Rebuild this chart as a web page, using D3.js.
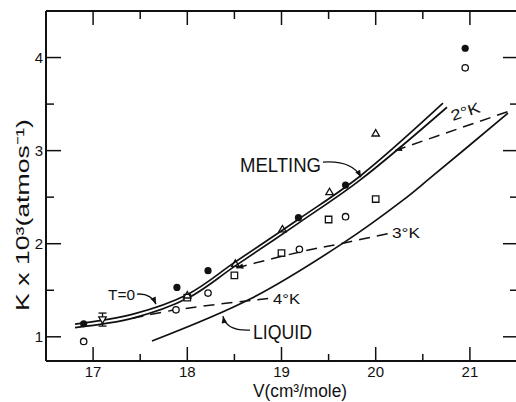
<!DOCTYPE html>
<html>
<head>
<meta charset="utf-8">
<script src="https://cdn.jsdelivr.net/npm/d3@7"></script>
<style>
  body { margin: 0; background: #fff; }
  svg { display: block; }
  text { font-family: "Liberation Sans", Arial, sans-serif; fill: #111; }
</style>
</head>
<body>
<div id="chart"></div>
<script>
/*---------- données ----------*/
var xTicks = [17, 18, 19, 20, 21];
var xMinor = [17.5, 18.5, 19.5, 20.5];
var yTicks = [1, 2, 3, 4];
var yMinor = [1.5, 2.5, 3.5];

// points expérimentaux
var filledV = [16.9, 17.89, 18.22, 19.18, 19.68, 20.95];
var filledK = [1.14, 1.53, 1.71, 2.28, 2.63, 4.10];
var openV = [16.9, 17.88, 18.22, 19.19, 19.68, 20.95];
var openK = [0.95, 1.29, 1.47, 1.94, 2.29, 3.89];
var triV = [18.0, 18.51, 19.01, 19.51, 20.0];
var triK = [1.44, 1.78, 2.15, 2.55, 3.18];
var sqV = [18.0, 18.5, 19.0, 19.5, 20.0];
var sqK = [1.42, 1.66, 1.90, 2.26, 2.48];
var errV = [17.1], errK = [1.19], errLo = [1.115], errHi = [1.255];

// courbes
var tZeroV = [16.808, 17.424, 18.007, 18.506, 19.196, 19.833, 20.714];
var tZeroK = [1.136, 1.244, 1.458, 1.802, 2.274, 2.725, 3.509];
var meltV = [16.808, 17.424, 18.007, 18.506, 19.196, 19.833, 20.757];
var meltK = [1.099, 1.201, 1.416, 1.759, 2.232, 2.683, 3.466];
var liquidV = [17.625, 18.666, 19.653, 20.29, 20.576, 21.404];
var liquidK = [0.954, 1.405, 2.006, 2.468, 2.704, 3.402];
var iso4V = [17.42, 17.88, 18.89];
var iso4K = [1.20, 1.29, 1.415];
var iso3V = [18.52, 19.186, 19.653, 20.152];
var iso3K = [1.74, 1.909, 2.006, 2.113];
var iso2V = [20.205, 21.404];
var iso2K = [3.00, 3.42];

/*---------- mise en place ----------*/
var W = 516, H = 402;
var svg = d3.select("#chart").append("svg")
    .attr("width", W)
    .attr("height", H);

var x = d3.scaleLinear().domain([16.5, 21.5]).range([46, 517]);
var y = d3.scaleLinear().domain([0.74, 4.5]).range([361, 11]);

var zip = function(a, b) { return a.map(function(v, i) { return [v, b[i]]; }); };

var defs = svg.append("defs");
defs.append("marker")
    .attr("id", "fleche")
    .attr("viewBox", "0 0 10 10")
    .attr("refX", 10).attr("refY", 5)
    .attr("markerWidth", 8).attr("markerHeight", 7)
    .attr("markerUnits", "userSpaceOnUse")
    .attr("orient", "auto-start-reverse")
    .append("path")
    .attr("d", "M0,1 L10,5 L0,9 Z")
    .style("fill", "#111");

/*---------- axes ----------*/
var ax = svg.append("g").style("stroke", "#111").style("stroke-width", 2);
ax.append("line").attr("x1", x(16.5)).attr("x2", W).attr("y1", y(0.74)).attr("y2", y(0.74));
ax.append("line").attr("x1", x(16.5)).attr("x2", W).attr("y1", y(4.5)).attr("y2", y(4.5));
ax.append("line").attr("x1", x(16.5)).attr("x2", x(16.5)).attr("y1", y(4.5)).attr("y2", y(0.74));

var tk = svg.append("g").style("stroke", "#111").style("stroke-width", 1.5);
xTicks.forEach(function(v) {
    tk.append("line").attr("x1", x(v)).attr("x2", x(v)).attr("y1", y(0.74)).attr("y2", y(0.74) - 14);
    tk.append("line").attr("x1", x(v)).attr("x2", x(v)).attr("y1", y(4.5)).attr("y2", y(4.5) + 14);
});
xMinor.forEach(function(v) {
    tk.append("line").attr("x1", x(v)).attr("x2", x(v)).attr("y1", y(0.74)).attr("y2", y(0.74) - 7);
    tk.append("line").attr("x1", x(v)).attr("x2", x(v)).attr("y1", y(4.5)).attr("y2", y(4.5) + 8);
});
yTicks.forEach(function(v) {
    tk.append("line").attr("x1", x(16.5)).attr("x2", x(16.5) + 15).attr("y1", y(v)).attr("y2", y(v));
    tk.append("line").attr("x1", W).attr("x2", W - 13).attr("y1", y(v)).attr("y2", y(v));
});
yMinor.forEach(function(v) {
    tk.append("line").attr("x1", x(16.5)).attr("x2", x(16.5) + 8).attr("y1", y(v)).attr("y2", y(v));
    tk.append("line").attr("x1", W).attr("x2", W - 6).attr("y1", y(v)).attr("y2", y(v));
});

svg.append("g").selectAll("text")
    .data(xTicks)
    .enter()
    .append("text")
    .attr("x", d => x(d))
    .attr("y", y(0.74) + 16)
    .style("text-anchor", "middle")
    .style("font-size", "15px")
    .text(d => d);

svg.append("g").selectAll("text")
    .data(yTicks)
    .enter()
    .append("text")
    .attr("x", x(16.5) - 3)
    .attr("y", d => y(d) + 5.5)
    .style("text-anchor", "end")
    .style("font-size", "15px")
    .text(d => d);

// titres des axes
svg.append("text")
    .attr("x", 300).attr("y", 397)
    .style("text-anchor", "middle")
    .style("font-size", "18px")
    .attr("textLength", 94)
    .attr("lengthAdjust", "spacingAndGlyphs")
    .text("V(cm³/mole)");

svg.append("text")
    .attr("transform", "translate(29,215) rotate(-90)")
    .style("text-anchor", "middle")
    .style("font-size", "19px")
    .attr("textLength", 192)
    .attr("lengthAdjust", "spacingAndGlyphs")
    .text("K x 10³(atmos⁻¹)");

/*---------- courbes ----------*/
var line = d3.line()
    .x(d => x(d[0]))
    .y(d => y(d[1]))
    .curve(d3.curveCatmullRom);

var courbes = svg.append("g").style("fill", "none").style("stroke", "#111");
courbes.append("path").attr("d", line(zip(tZeroV, tZeroK))).style("stroke-width", 1.7);
courbes.append("path").attr("d", line(zip(meltV, meltK))).style("stroke-width", 1.7);
courbes.append("path").attr("d", line(zip(liquidV, liquidK))).style("stroke-width", 1.7);

courbes.append("path").attr("d", line(zip(iso4V, iso4K)))
    .style("stroke-width", 1.5).style("stroke-dasharray", "11,7");
courbes.append("path").attr("d", line(zip(iso3V, iso3K)))
    .style("stroke-width", 1.5).style("stroke-dasharray", "11,7")
    .attr("marker-start", "url(#fleche)");
courbes.append("path").attr("d", line(zip(iso2V, iso2K)))
    .style("stroke-width", 1.5).style("stroke-dasharray", "11,7")
    .attr("marker-start", "url(#fleche)");

/*---------- points ----------*/
var pts = svg.append("g");
pts.selectAll(".plein")
    .data(zip(filledV, filledK))
    .enter()
    .append("circle")
    .attr("cx", d => x(d[0]))
    .attr("cy", d => y(d[1]))
    .attr("r", 3.6)
    .style("fill", "#111");

pts.selectAll(".vide")
    .data(zip(openV, openK))
    .enter()
    .append("circle")
    .attr("cx", d => x(d[0]))
    .attr("cy", d => y(d[1]))
    .attr("r", 3.2)
    .style("fill", "#fff")
    .style("stroke", "#111")
    .style("stroke-width", 1.3);

pts.selectAll(".carre")
    .data(zip(sqV, sqK))
    .enter()
    .append("path")
    .attr("transform", d => "translate(" + x(d[0]) + "," + y(d[1]) + ")")
    .attr("d", d3.symbol(d3.symbolSquare).size(42))
    .style("fill", "#fff")
    .style("stroke", "#111")
    .style("stroke-width", 1.3);

pts.selectAll(".tri")
    .data(zip(triV, triK))
    .enter()
    .append("path")
    .attr("transform", d => "translate(" + x(d[0]) + "," + y(d[1]) + ")")
    .attr("d", d3.symbol(d3.symbolTriangle).size(24))
    .style("fill", "none")
    .style("stroke", "#111")
    .style("stroke-width", 1.3);

// point avec barre d'erreur
var eb = pts.append("g").style("stroke", "#111").style("stroke-width", 1.3).style("fill", "none");
errV.forEach(function(v, i) {
    eb.append("line").attr("x1", x(v)).attr("x2", x(v)).attr("y1", y(errLo[i])).attr("y2", y(errHi[i]));
    eb.append("line").attr("x1", x(v) - 4).attr("x2", x(v) + 4).attr("y1", y(errLo[i])).attr("y2", y(errLo[i]));
    eb.append("line").attr("x1", x(v) - 4).attr("x2", x(v) + 4).attr("y1", y(errHi[i])).attr("y2", y(errHi[i]));
    eb.append("path")
        .attr("transform", "translate(" + x(v) + "," + y(errK[i]) + ") rotate(180)")
        .attr("d", d3.symbol(d3.symbolTriangle).size(24))
        .style("fill", "#fff");
});

/*---------- annotations ----------*/
var annot = svg.append("g");
function label(v, k, txt, size, len) {
    var t = annot.append("text")
        .attr("x", x(v)).attr("y", y(k))
        .style("font-size", size + "px")
        .text(txt);
    if (len) t.attr("textLength", len).attr("lengthAdjust", "spacingAndGlyphs");
    return t;
}
function arrow(p0, p1, p2) {
    annot.append("path")
        .attr("d", "M" + x(p0[0]) + "," + y(p0[1]) + " Q" + x(p1[0]) + "," + y(p1[1]) + " " + x(p2[0]) + "," + y(p2[1]))
        .style("fill", "none")
        .style("stroke", "#111")
        .style("stroke-width", 1.3)
        .attr("marker-end", "url(#fleche)");
}

label(17.158, 1.394, "T=0", 14, 27);
arrow([17.466, 1.459], [17.615, 1.469], [17.668, 1.351]);

label(18.559, 2.774, "MELTING", 21, 81);
arrow([19.44, 2.876], [19.748, 2.897], [19.844, 2.715]);

label(18.697, 0.972, "LIQUID", 21, 59);
arrow([18.666, 1.072], [18.411, 1.061], [18.379, 1.222]);

label(18.91, 1.357, "4°K", 15, 27);
label(20.173, 2.06, "3°K", 15, 28);

annot.append("text")
    .attr("transform", "translate(" + x(20.97) + "," + y(3.367) + ") rotate(-18)")
    .style("text-anchor", "middle")
    .style("font-size", "15px")
    .attr("textLength", 30)
    .attr("lengthAdjust", "spacingAndGlyphs")
    .text("2°K");
</script>
</body>
</html>
